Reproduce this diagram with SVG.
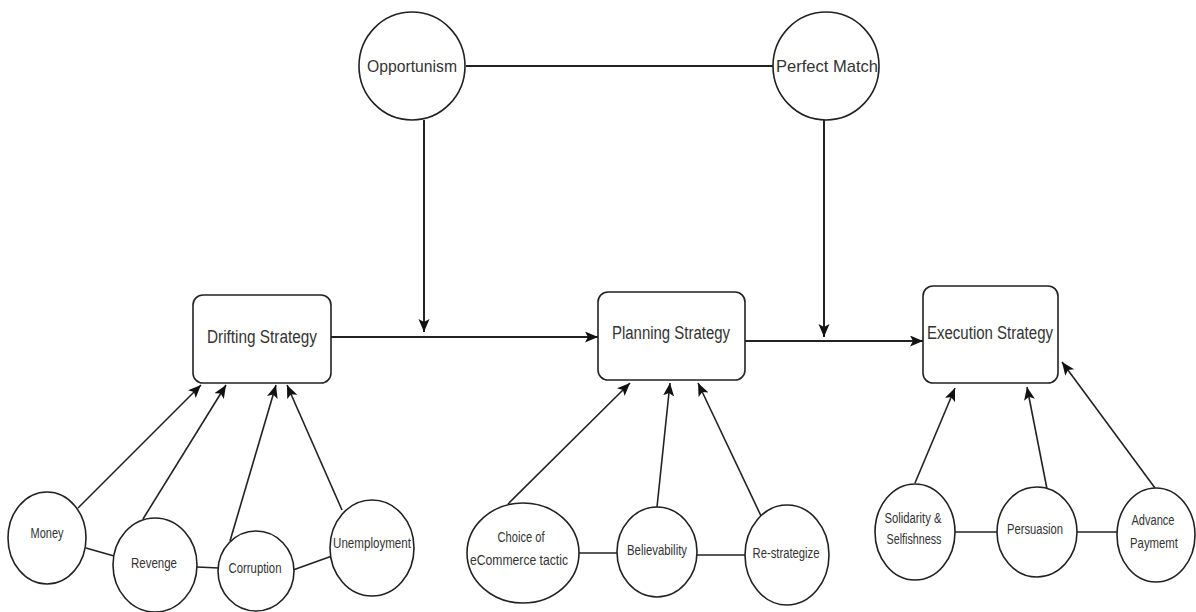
<svg xmlns="http://www.w3.org/2000/svg" width="1196" height="612" viewBox="0 0 1196 612">
<defs>
<marker id="ah" markerUnits="userSpaceOnUse" markerWidth="14" markerHeight="12" refX="13" refY="5.5" orient="auto">
<path d="M0,0 L13,5.5 L0,11 L3,5.5 Z" fill="#111"/>
</marker>
<style>
.shape{fill:#fff;stroke:#222;stroke-width:1.6}
.ln{stroke:#222;stroke-width:1.6;fill:none}
.main{stroke:#222;stroke-width:2;fill:none}
.t{font-family:"Liberation Sans",Arial,sans-serif;fill:#333;text-anchor:middle;dominant-baseline:central}
.big{font-size:18px}
.mid{font-size:17px}
.sm{font-size:14px}
</style>
</defs>
<rect width="1196" height="612" fill="#fff"/>
<g id="connectors">
<line class="main" x1="466" y1="66" x2="773" y2="66"/>
<line class="main" x1="424" y1="120" x2="424" y2="332" marker-end="url(#ah)"/>
<line class="main" x1="824" y1="120" x2="824" y2="337" marker-end="url(#ah)"/>
<line class="main" x1="331" y1="337" x2="598" y2="337" marker-end="url(#ah)"/>
<line class="main" x1="745" y1="341" x2="923" y2="341" marker-end="url(#ah)"/>
<line class="ln" x1="78" y1="508" x2="201" y2="385" marker-end="url(#ah)"/>
<line class="ln" x1="143" y1="519" x2="226" y2="385" marker-end="url(#ah)"/>
<line class="ln" x1="230" y1="541" x2="276" y2="385" marker-end="url(#ah)"/>
<line class="ln" x1="342" y1="510" x2="287" y2="385" marker-end="url(#ah)"/>
<line class="ln" x1="86" y1="548" x2="114" y2="556"/>
<line class="ln" x1="197" y1="567" x2="219" y2="568"/>
<line class="ln" x1="293" y1="570" x2="332" y2="556"/>
<line class="ln" x1="508" y1="504" x2="630" y2="383" marker-end="url(#ah)"/>
<line class="ln" x1="657" y1="507" x2="670" y2="383" marker-end="url(#ah)"/>
<line class="ln" x1="762" y1="518" x2="698" y2="383" marker-end="url(#ah)"/>
<line class="ln" x1="579" y1="553" x2="617" y2="553"/>
<line class="ln" x1="697" y1="555" x2="745" y2="555"/>
<line class="ln" x1="915" y1="483" x2="955" y2="388" marker-end="url(#ah)"/>
<line class="ln" x1="1047" y1="489" x2="1027" y2="387" marker-end="url(#ah)"/>
<line class="ln" x1="1155" y1="488" x2="1062" y2="362" marker-end="url(#ah)"/>
<line class="ln" x1="955" y1="532" x2="997" y2="532"/>
<line class="ln" x1="1077" y1="532" x2="1117" y2="532"/>
</g>
<g id="opportunism"><ellipse class="shape" cx="412" cy="66" rx="53" ry="54"/><text class="t mid" x="412" y="66" textLength="90" lengthAdjust="spacingAndGlyphs">Opportunism</text></g>
<g id="perfect-match"><ellipse class="shape" cx="826" cy="66" rx="53" ry="54"/><text class="t mid" x="827" y="66" textLength="102" lengthAdjust="spacingAndGlyphs">Perfect Match</text></g>
<g id="drifting"><rect class="shape" x="193" y="295" width="138" height="88" rx="10"/><text class="t big" x="262" y="337" textLength="110" lengthAdjust="spacingAndGlyphs">Drifting Strategy</text></g>
<g id="planning"><rect class="shape" x="598" y="292" width="147" height="88" rx="10"/><text class="t big" x="671" y="333" textLength="118" lengthAdjust="spacingAndGlyphs">Planning Strategy</text></g>
<g id="execution"><rect class="shape" x="923" y="286" width="135" height="97" rx="10"/><text class="t big" x="990" y="333" textLength="126" lengthAdjust="spacingAndGlyphs">Execution Strategy</text></g>
<g id="money"><ellipse class="shape" cx="47" cy="538" rx="39" ry="46"/><text class="t sm" x="47" y="533" textLength="33" lengthAdjust="spacingAndGlyphs">Money</text></g>
<g id="revenge"><ellipse class="shape" cx="155" cy="565" rx="42" ry="47"/><text class="t sm" x="154" y="563" textLength="46" lengthAdjust="spacingAndGlyphs">Revenge</text></g>
<g id="corruption"><ellipse class="shape" cx="256" cy="571" rx="38" ry="40"/><text class="t sm" x="255" y="568" textLength="53" lengthAdjust="spacingAndGlyphs">Corruption</text></g>
<g id="unemployment"><ellipse class="shape" cx="372" cy="548" rx="42" ry="48"/><text class="t sm" x="372" y="543" textLength="78" lengthAdjust="spacingAndGlyphs">Unemployment</text></g>
<g id="choice"><ellipse class="shape" cx="523" cy="553" rx="56" ry="50"/><text class="t sm" x="521" y="537" textLength="47" lengthAdjust="spacingAndGlyphs">Choice of</text><text class="t sm" x="519" y="560" textLength="98" lengthAdjust="spacingAndGlyphs">eCommerce tactic</text></g>
<g id="believability"><ellipse class="shape" cx="657" cy="552" rx="40" ry="45"/><text class="t sm" x="657" y="550" textLength="60" lengthAdjust="spacingAndGlyphs">Believability</text></g>
<g id="restrategize"><ellipse class="shape" cx="787" cy="555" rx="42" ry="50"/><text class="t sm" x="786" y="553" textLength="67" lengthAdjust="spacingAndGlyphs">Re-strategize</text></g>
<g id="solidarity"><ellipse class="shape" cx="915" cy="532" rx="40" ry="48"/><text class="t sm" x="913" y="518" textLength="57" lengthAdjust="spacingAndGlyphs">Solidarity &amp;</text><text class="t sm" x="914" y="539" textLength="55" lengthAdjust="spacingAndGlyphs">Selfishness</text></g>
<g id="persuasion"><ellipse class="shape" cx="1037" cy="532" rx="40" ry="45"/><text class="t sm" x="1035" y="529" textLength="56" lengthAdjust="spacingAndGlyphs">Persuasion</text></g>
<g id="advance"><ellipse class="shape" cx="1156" cy="535" rx="39" ry="47"/><text class="t sm" x="1153" y="520" textLength="43" lengthAdjust="spacingAndGlyphs">Advance</text><text class="t sm" x="1154" y="543" textLength="48" lengthAdjust="spacingAndGlyphs">Paymemt</text></g>
</svg>
